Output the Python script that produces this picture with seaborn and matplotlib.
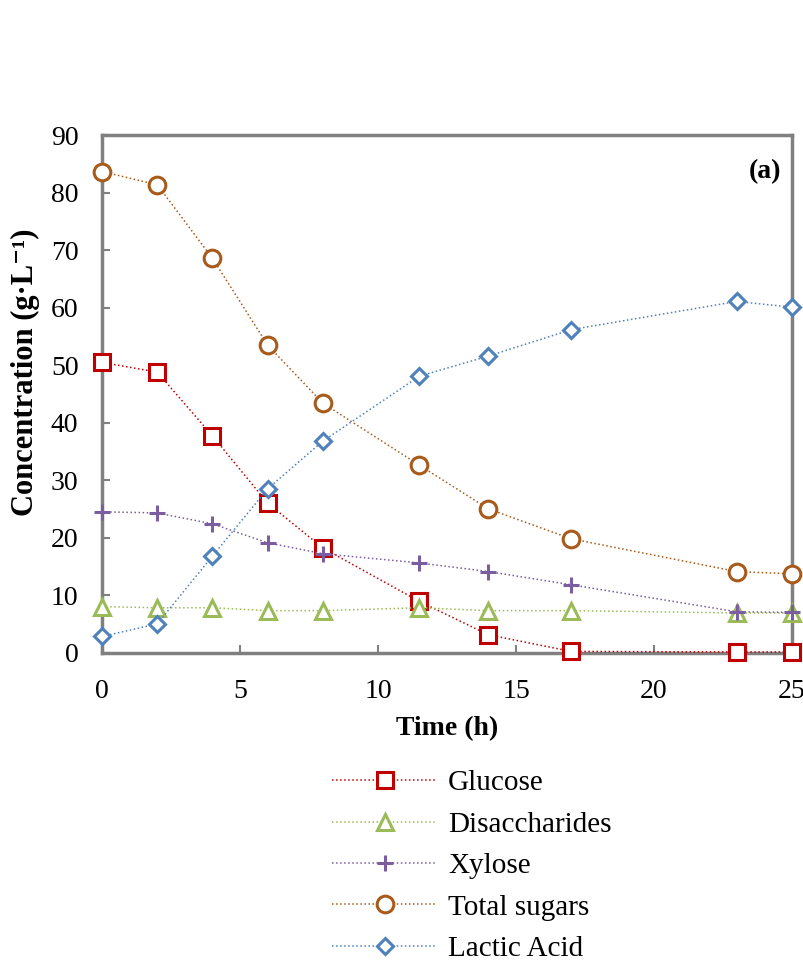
import pandas as pd
import matplotlib
matplotlib.use("Agg")
import matplotlib.pyplot as plt
import seaborn as sns

sns.set_theme(style="white")
plt.rcParams["font.family"] = ["Liberation Serif", "DejaVu Serif"]
plt.rcParams["text.color"] = "black"
plt.rcParams["axes.labelcolor"] = "black"
plt.rcParams["xtick.labelcolor"] = "black"
plt.rcParams["ytick.labelcolor"] = "black"

# Data
time_h = [0, 2, 4, 6, 8, 11.5, 14, 17, 23, 25]
glucose = [50.5, 48.8, 37.7, 26.0, 18.2, 8.9, 3.1, 0.2, 0.1, 0.1]
disaccharides = [8.0, 7.8, 7.8, 7.3, 7.3, 7.8, 7.3, 7.3, 6.9, 6.9]
xylose = [24.5, 24.3, 22.4, 19.1, 17.2, 15.6, 14.1, 11.8, 7.1, 7.0]
total_sugars = [83.7, 81.4, 68.6, 53.5, 43.4, 32.6, 25.0, 19.8, 14.1, 13.7]
lactic_acid = [2.8, 5.0, 16.8, 28.5, 36.8, 48.1, 51.6, 56.2, 61.1, 60.1]

series = {
    "Glucose": glucose,
    "Disaccharides": disaccharides,
    "Xylose": xylose,
    "Total sugars": total_sugars,
    "Lactic Acid": lactic_acid,
}
colors = {
    "Glucose": "#C00000",
    "Disaccharides": "#9BBB59",
    "Xylose": "#7A5EA0",
    "Total sugars": "#A85A1A",
    "Lactic Acid": "#4F81BD",
}
markers = {
    "Glucose": ("s", 11),
    "Disaccharides": ("^", 11),
    "Xylose": ("+", 12),
    "Total sugars": ("o", 12),
    "Lactic Acid": ("D", 8.5),
}

df = pd.DataFrame({"time": time_h, **series})
long = df.melt(id_vars="time", var_name="series", value_name="conc")

fig = plt.figure(figsize=(8.04, 9.74), dpi=100)
ax = fig.add_axes([0.127, 0.330, 0.858, 0.531])

for name in series:
    sub = long[long["series"] == name]
    m, ms = markers[name]
    sns.lineplot(
        data=sub, x="time", y="conc", ax=ax, color=colors[name],
        linestyle=":", linewidth=1.1, marker=m, markersize=ms,
        markerfacecolor="white", markeredgecolor=colors[name],
        markeredgewidth=2.2, label=name, clip_on=False, zorder=3,
    )

ax.set_xlim(0, 25)
ax.set_ylim(0, 90)
ax.set_xticks([0, 5, 10, 15, 20, 25])
ax.set_yticks(range(0, 91, 10))
ax.tick_params(axis="both", direction="in", length=6, width=1.5,
               color="#808080", labelsize=20, bottom=True, left=True)
ax.tick_params(axis="x", pad=19)
ax.tick_params(axis="y", pad=17)
for sp in ax.spines.values():
    sp.set_color("#808080")
    sp.set_linewidth(2.5)
    sp.set_visible(True)

ax.set_xlabel("Time (h)", fontsize=20, fontweight="bold", labelpad=9)
ax.set_ylabel("Concentration (g·L⁻¹)", fontsize=22, fontweight="bold")
ax.yaxis.set_label_coords(-0.09, 0.542)
ax.text(0.985, 0.955, "(a)", transform=ax.transAxes, ha="right", va="top",
        fontsize=20, fontweight="bold")

handles, labels = ax.get_legend_handles_labels()
ax.get_legend().remove()
fig.legend(handles, labels, loc="upper left",
           bbox_to_anchor=(0.413, 0.2094), frameon=False, fontsize=21,
           handlelength=3.6, handletextpad=0.38, labelspacing=0.514,
           borderpad=0, borderaxespad=0)

fig.savefig("out.png", dpi=100)
